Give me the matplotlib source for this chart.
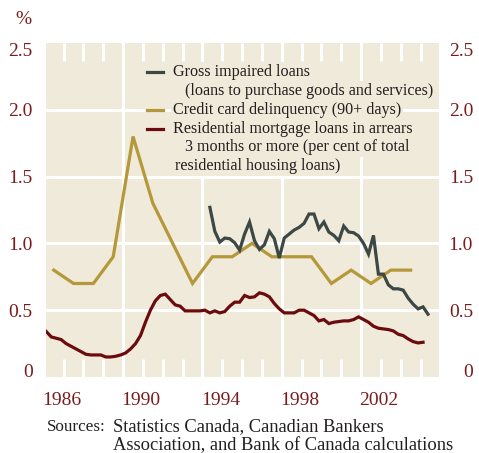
import matplotlib
matplotlib.use("Agg")
import matplotlib.pyplot as plt
import matplotlib.transforms as mtransforms
from matplotlib.lines import Line2D
import numpy as np

# ---------------- data ----------------
# Credit card delinquency (90+ days), annual, plotted mid-year
cc_years = [1986, 1987, 1988, 1989, 1990, 1991, 1992, 1993, 1994, 1995,
            1996, 1997, 1998, 1999, 2000, 2001, 2002, 2003, 2004]
cc_values = [0.80, 0.70, 0.70, 0.90, 1.80, 1.30, 1.00, 0.70, 0.90, 0.90,
             1.00, 0.90, 0.90, 0.90, 0.70, 0.80, 0.70, 0.80, 0.80]

# Gross impaired loans (consumer), quarterly from 1994Q2
gil_start = (1994, 2)
gil_values = [1.27, 1.09, 1.01, 1.04, 1.035, 1.005, 0.95, 1.07, 1.16, 1.02,
              0.955, 0.99, 1.09, 1.035, 0.89, 1.04, 1.07, 1.10, 1.12, 1.15,
              1.22, 1.22, 1.11, 1.16, 1.085, 1.06, 1.02, 1.13, 1.085, 1.08,
              1.055, 1.00, 0.92, 1.06, 0.77, 0.77, 0.69, 0.66, 0.66, 0.65,
              0.59, 0.545, 0.51, 0.525, 0.47]

# Residential mortgage arrears, quarterly from 1986Q1
rm_start = (1986, 1)
rm_values = [0.34, 0.30, 0.29, 0.28, 0.25, 0.23, 0.21, 0.19, 0.17, 0.165,
             0.165, 0.165, 0.15, 0.15, 0.155, 0.165, 0.18, 0.21, 0.25, 0.31,
             0.41, 0.50, 0.57, 0.61, 0.62, 0.58, 0.54, 0.53, 0.495, 0.495,
             0.495, 0.495, 0.50, 0.48, 0.495, 0.48, 0.49, 0.53, 0.56, 0.56,
             0.61, 0.595, 0.60, 0.63, 0.62, 0.60, 0.55, 0.51, 0.48, 0.48,
             0.48, 0.50, 0.50, 0.48, 0.46, 0.42, 0.43, 0.40, 0.41, 0.415,
             0.42, 0.42, 0.43, 0.45, 0.43, 0.41, 0.38, 0.365, 0.36, 0.355,
             0.345, 0.32, 0.31, 0.285, 0.265, 0.255, 0.26]

year_labels = [1986, 1990, 1994, 1998, 2002]
minor_years = list(range(1987, 2006))
grid_years = [1990, 1994, 1998, 2002]
y_ticks = [0, 0.5, 1.0, 1.5, 2.0, 2.5]
y_ticklabels = ["0", "0.5", "1.0", "1.5", "2.0", "2.5"]

legend_lines = [
    ("Gross impaired loans", "gil", 0),
    ("(loans to purchase goods and services)", None, 1),
    ("Credit card delinquency (90+ days)", "cc", 0),
    ("Residential mortgage loans in arrears", "rm", 0),
    ("3 months or more (per cent of total", None, 1),
    ("residential housing loans)", None, 2),
]
sources_label = "Sources:"
sources_lines = ["Statistics Canada, Canadian Bankers",
                 "Association, and Bank of Canada calculations"]

# ---------------- style ----------------
BG = "#EFEAD9"
C_GIL = "#3B4845"
C_CC = "#B5983A"
C_RM = "#6B0B0E"
C_LBL = "#7A1C1E"
C_TXT = "#231F20"
FONT = "Liberation Serif"
NUM_FS = 14
LEG_FS = 11.6
SRC_FS = 13.3
SRC_LBL_FS = 12.3

def quarterly_x(start, n):
    y0, q0 = start
    return np.array([y0 + (q0 - 1 + i) * 0.25 + 0.125 for i in range(n)])

cc_x = np.array(cc_years) + 0.5
gil_x = quarterly_x(gil_start, len(gil_values))
rm_x = quarterly_x(rm_start, len(rm_values))

W, H = 479, 453
fig = plt.figure(figsize=(W / 100, H / 100), dpi=100)
fig.patch.set_facecolor("white")
L, R, T, B = 46, 439, 43, 377
ax = fig.add_axes([L / W, 1 - B / H, (R - L) / W, (B - T) / H])
ax.set_facecolor(BG)
for s in ax.spines.values():
    s.set_visible(False)

ax.set_xlim(1986.11, 2005.93)
ax.set_ylim(0, 2.5)

# gridlines
for gy in grid_years:
    ax.axvline(gy, color="white", lw=2.2, zorder=1)
for yv in y_ticks[1:-1]:
    ax.axhline(yv, color="white", lw=2.2, zorder=1)

# year ticks (white, inside, top and bottom)
ax.set_xticks(minor_years)
ax.tick_params(axis="x", direction="in", length=13, width=2.2, color="white",
               top=True, bottom=True, labelbottom=False, labeltop=False)

# y ticks / labels on both sides
ax.set_yticks(y_ticks)
ax.set_yticklabels(y_ticklabels)
ax.tick_params(axis="y", length=0, left=False, right=False, labelleft=True,
               labelright=True, labelsize=NUM_FS, labelcolor=C_LBL, pad=9.5)
offset = mtransforms.ScaledTranslation(15 / 72, 0, fig.dpi_scale_trans)
down = mtransforms.ScaledTranslation(0, -3 / 72, fig.dpi_scale_trans)
ticks = ax.yaxis.get_major_ticks()
for t in ticks:
    t.label1.set_fontfamily(FONT)
    t.label2.set_fontfamily(FONT)
    t.label2.set_horizontalalignment("right")
    t.label2.set_transform(t.label2.get_transform() + offset)
ticks[0].label1.set_verticalalignment("bottom")
ticks[0].label2.set_verticalalignment("bottom")
ticks[0].label1.set_transform(ticks[0].label1.get_transform() + down)
ticks[0].label2.set_transform(ticks[0].label2.get_transform() + down)
ticks[-1].label1.set_verticalalignment("top")
ticks[-1].label2.set_verticalalignment("top")

# series
ax.plot(cc_x, cc_values, color=C_CC, lw=2.3, zorder=3, solid_joinstyle="miter")
ax.plot(gil_x, gil_values, color=C_GIL, lw=2.3, zorder=4, solid_joinstyle="miter")
ax.plot(rm_x, rm_values, color=C_RM, lw=2.3, zorder=4, solid_joinstyle="miter")

# year labels (left-aligned at the year tick)
xform = mtransforms.blended_transform_factory(ax.transData, ax.transAxes)
for yl in year_labels:
    ax.text(yl - 0.08, -(392 - B) / (B - T), str(yl), transform=xform, ha="left",
            va="top", fontsize=NUM_FS, color=C_LBL, fontfamily=FONT, clip_on=False)

# legend (manual, each line on a background box)
colors = {"gil": C_GIL, "cc": C_CC, "rm": C_RM}
line_y0, line_dy = 72.3, 18.75
indent_px = {0: 173, 1: 185, 2: 175}
for i, (txt, key, ind) in enumerate(legend_lines):
    ypx = line_y0 + i * line_dy
    yf = (B - ypx) / (B - T)
    xf = (indent_px[ind] - L) / (R - L)
    ax.text(xf, yf, txt, transform=ax.transAxes, ha="left", va="center",
            fontsize=LEG_FS, color=C_TXT, fontfamily=FONT, zorder=5,
            bbox=dict(facecolor=BG, edgecolor="none", pad=1.4))
    if key is not None:
        ax.add_line(Line2D([(147 - L) / (R - L), (163 - L) / (R - L)], [yf, yf],
                           transform=ax.transAxes, color=colors[key], lw=2.3,
                           zorder=6))

# percent sign
fig.text(23 / W, 1 - 20 / H, "%", ha="center", va="center", fontsize=NUM_FS,
         color=C_LBL, fontfamily=FONT)

# sources
fig.text(47 / W, 1 - 427 / H, sources_label, ha="left", va="center",
         fontsize=SRC_LBL_FS, color=C_TXT, fontfamily=FONT)
for i, s in enumerate(sources_lines):
    fig.text(113 / W, 1 - (427 + 18.5 * i) / H, s, ha="left", va="center",
             fontsize=SRC_FS, color=C_TXT, fontfamily=FONT)

fig.savefig("out.png", dpi=100, facecolor="white")
